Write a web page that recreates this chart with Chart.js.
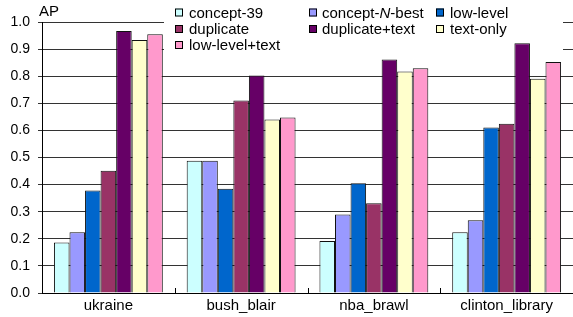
<!DOCTYPE html>
<html>
<head>
<meta charset="utf-8">
<script src="https://cdn.jsdelivr.net/npm/chart.js@4"></script>
<style>
  body { margin: 0; background: #fff; }
</style>
</head>
<body>
<canvas id="apChart" width="573" height="317"></canvas>
<script>
const categories = ['ukraine', 'bush_blair', 'nba_brawl', 'clinton_library'];
const seriesNames = ['concept-39', 'concept-N-best', 'low-level', 'duplicate', 'duplicate+text', 'text-only', 'low-level+text'];
const seriesColors = ['#CCFFFF', '#9999FF', '#0066CC', '#993366', '#660066', '#FFFFCC', '#FF99CC'];

const concept39 = [0.186, 0.488, 0.192, 0.224];
const conceptNBest = [0.224, 0.488, 0.290, 0.268];
const lowLevel = [0.378, 0.385, 0.405, 0.611];
const duplicate = [0.451, 0.710, 0.331, 0.625];
const duplicateText = [0.967, 0.803, 0.862, 0.922];
const textOnly = [0.934, 0.640, 0.817, 0.791];
const lowLevelText = [0.955, 0.648, 0.829, 0.852];

const seriesValues = [concept39, conceptNBest, lowLevel, duplicate, duplicateText, textOnly, lowLevelText];

const FONT = "'Liberation Sans', Arial, sans-serif";

// legend box sits on top of the plot, under the bars
const overlayLegend = {
  id: 'overlayLegend',
  beforeDatasetsDraw(chart) {
    const ctx = chart.ctx;
    ctx.save();
    ctx.fillStyle = '#fff';
    ctx.fillRect(164, 0, 399, 56);
    const markX = [175, 309, 436];
    const textX = [189, 322, 450];
    const rowY = [12.5, 29, 45];
    ctx.textBaseline = 'middle';
    seriesNames.forEach(function(name, i) {
      const col = i % 3, row = Math.floor(i / 3);
      const cy = rowY[row];
      ctx.fillStyle = seriesColors[i];
      ctx.fillRect(markX[col], cy - 4, 8, 8);
      ctx.strokeStyle = '#000';
      ctx.lineWidth = 1;
      ctx.strokeRect(markX[col] + 0.5, cy - 3.5, 7, 7);
      ctx.fillStyle = '#000';
      let x = textX[col];
      const parts = name.split(/(?<=-)(N)(?=-)/);
      parts.forEach(function(p, k) {
        ctx.font = (k % 2 ? 'italic ' : '') + '15px ' + FONT;
        ctx.fillText(p, x, cy + 1);
        x += ctx.measureText(p).width;
      });
    });
    ctx.restore();
  },
  afterDraw(chart) {
    const ctx = chart.ctx;
    const xs = chart.scales.x;
    const area = chart.chartArea;
    ctx.save();
    ctx.fillStyle = '#000';
    ctx.font = '15px ' + FONT;
    ctx.textBaseline = 'middle';
    ctx.fillText('AP', 39, 12);
    // little separator ticks between categories
    ctx.strokeStyle = '#000';
    ctx.lineWidth = 1;
    const half = (xs.getPixelForValue(1) - xs.getPixelForValue(0)) / 2;
    for (let i = 1; i < categories.length; i++) {
      const x = Math.round(xs.getPixelForValue(i) - half) + 0.5;
      ctx.beginPath();
      ctx.moveTo(x, area.bottom - 5);
      ctx.lineTo(x, area.bottom);
      ctx.stroke();
    }
    ctx.restore();
  }
};

const data = {
  labels: categories,
  datasets: seriesNames.map(function(name, i) {
    return {
      label: name,
      data: seriesValues[i],
      backgroundColor: seriesColors[i],
      borderColor: '#111',
      borderWidth: 1,
      categoryPercentage: 0.82,
      barPercentage: 1.0
    };
  })
};

const config = {
  type: 'bar',
  data: data,
  options: {
    responsive: false,
    animation: false,
    layout: { padding: { top: 22, right: 0, bottom: 0, left: 0 } },
    plugins: {
      legend: { display: false },
      tooltip: { enabled: false }
    },
    scales: {
      x: {
        grid: { display: true, drawOnChartArea: false, drawTicks: false },
        border: { display: true, color: '#000', width: 1 },
        ticks: { color: '#000', font: { family: FONT, size: 15 }, padding: 4 },
        afterFit(scale) { scale.height = 24; }
      },
      y: {
        min: 0,
        max: 1,
        grid: { color: '#333', lineWidth: 1, tickLength: 4, drawTicks: true },
        border: { display: true, color: '#000', width: 1 },
        ticks: {
          stepSize: 0.1,
          color: '#000',
          padding: 8,
          font: { family: FONT, size: 14 },
          callback: function(v) { return Number(v).toFixed(1); }
        },
        afterFit(scale) { scale.width = 42; }
      }
    }
  },
  plugins: [overlayLegend]
};

const apChart = new Chart(document.getElementById('apChart'), config);
</script>
</body>
</html>
